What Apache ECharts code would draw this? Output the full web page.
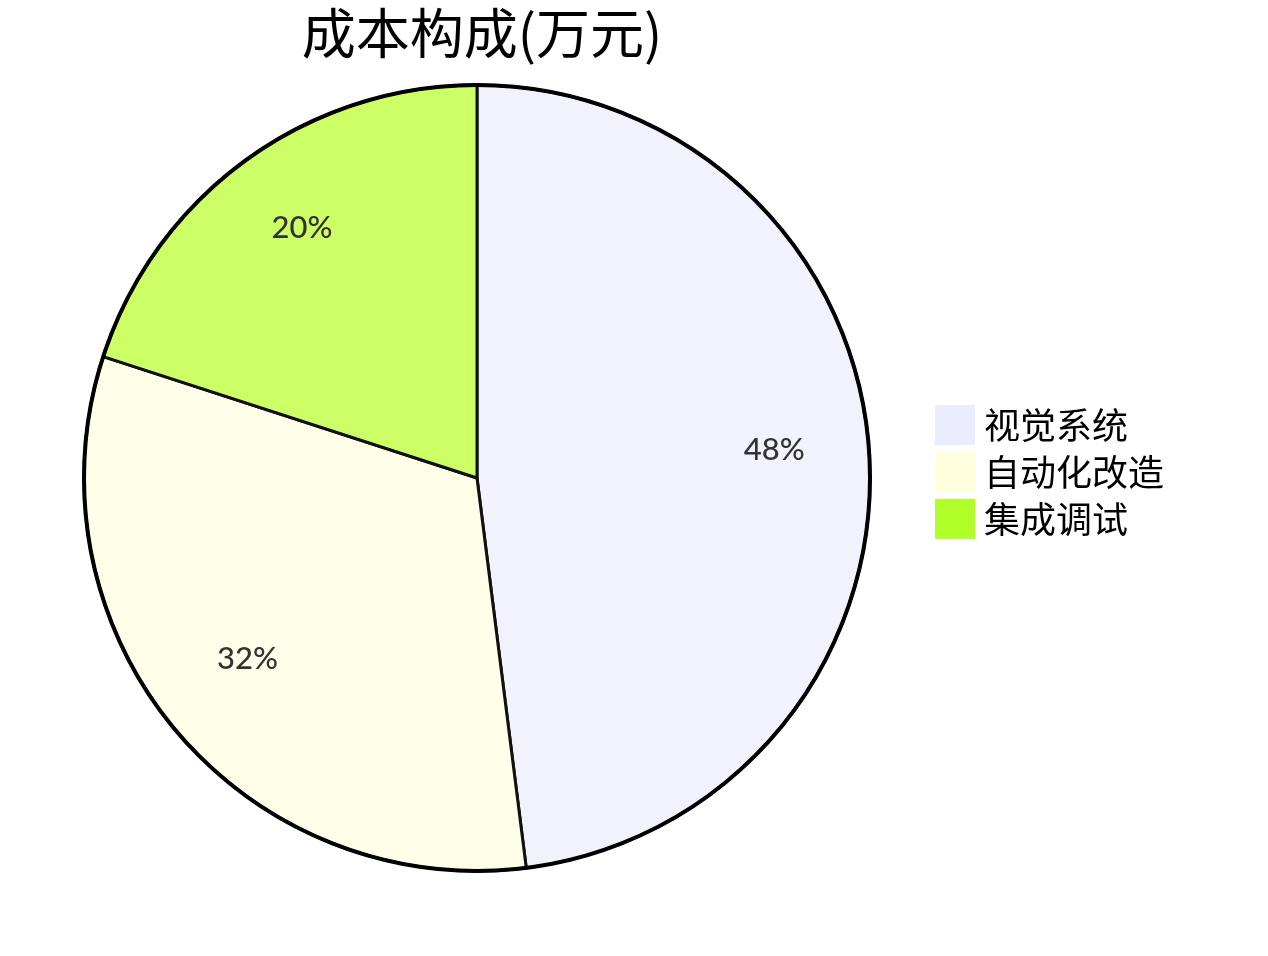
<!DOCTYPE html>
<html>
<head>
<meta charset="utf-8">
<script src="https://cdn.jsdelivr.net/npm/echarts@6/dist/echarts.min.js"></script>
<style>
  html, body { margin: 0; padding: 0; background: #fff; }
  #main { width: 1268px; height: 956px; }
</style>
</head>
<body>
<div id="main"></div>
<script>
// 数据
var titleText = '成本构成(万元)';
var categories = ['视觉系统', '自动化改造', '集成调试'];
var values = [12, 8, 5];
var legendColors = ['#ececff', '#ffffde', '#b0ff2a'];
var sliceColors = ['#f2f2fd', '#fffee8', '#ccff66'];

var cx = 477, cy = 478, R = 393;

var myChart = echarts.init(document.getElementById('main'));
var total = values.reduce(function (a, b) { return a + b; }, 0);

var option = {
    animation: false,
    title: {
        text: titleText,
        left: cx,
        textAlign: 'center',
        top: 1,
        textStyle: {
            fontFamily: 'Noto Sans CJK SC',
            fontSize: 54,
            fontWeight: 'normal',
            color: '#000'
        }
    },
    legend: {
        orient: 'vertical',
        left: 935,
        top: 405,
        padding: 0,
        itemWidth: 40,
        itemHeight: 40,
        itemGap: 7,
        icon: 'rect',
        selectedMode: false,
        data: categories.map(function (name, i) {
            return { name: name, itemStyle: { color: legendColors[i], borderWidth: 0 } };
        }),
        textStyle: {
            fontFamily: 'Noto Sans CJK SC',
            fontSize: 36,
            color: '#000',
            padding: [0, 0, 0, 4]
        }
    },
    graphic: [{
        type: 'circle',
        shape: { cx: cx, cy: cy, r: R },
        style: { fill: 'none', stroke: '#000', lineWidth: 4 },
        z: 10
    }],
    series: [{
        name: '成本',
        type: 'pie',
        center: [cx, cy],
        radius: [0, R],
        startAngle: 90,
        clockwise: true,
        label: { show: false },
        labelLine: { show: false },
        silent: true,
        itemStyle: { borderColor: '#111', borderWidth: 3 },
        data: categories.map(function (name, i) {
            return { name: name, value: values[i], itemStyle: { color: sliceColors[i] } };
        })
    }, {
        // 标签环, 百分比位于 0.75R
        name: 'labels',
        type: 'pie',
        center: [cx, cy],
        radius: [R * 0.5, R],
        startAngle: 90,
        clockwise: true,
        silent: true,
        z: 5,
        itemStyle: { color: 'rgba(0,0,0,0)', borderWidth: 0 },
        label: {
            show: true,
            position: 'inside',
            fontFamily: 'Lato',
            fontSize: 31,
            fontWeight: 500,
            color: '#333',
            offset: [0, -9],
            formatter: function (p) {
                return Math.round(p.value / total * 100) + '%';
            }
        },
        labelLine: { show: false },
        data: categories.map(function (name, i) {
            return { name: name, value: values[i] };
        })
    }]
};
myChart.setOption(option);
</script>
</body>
</html>
